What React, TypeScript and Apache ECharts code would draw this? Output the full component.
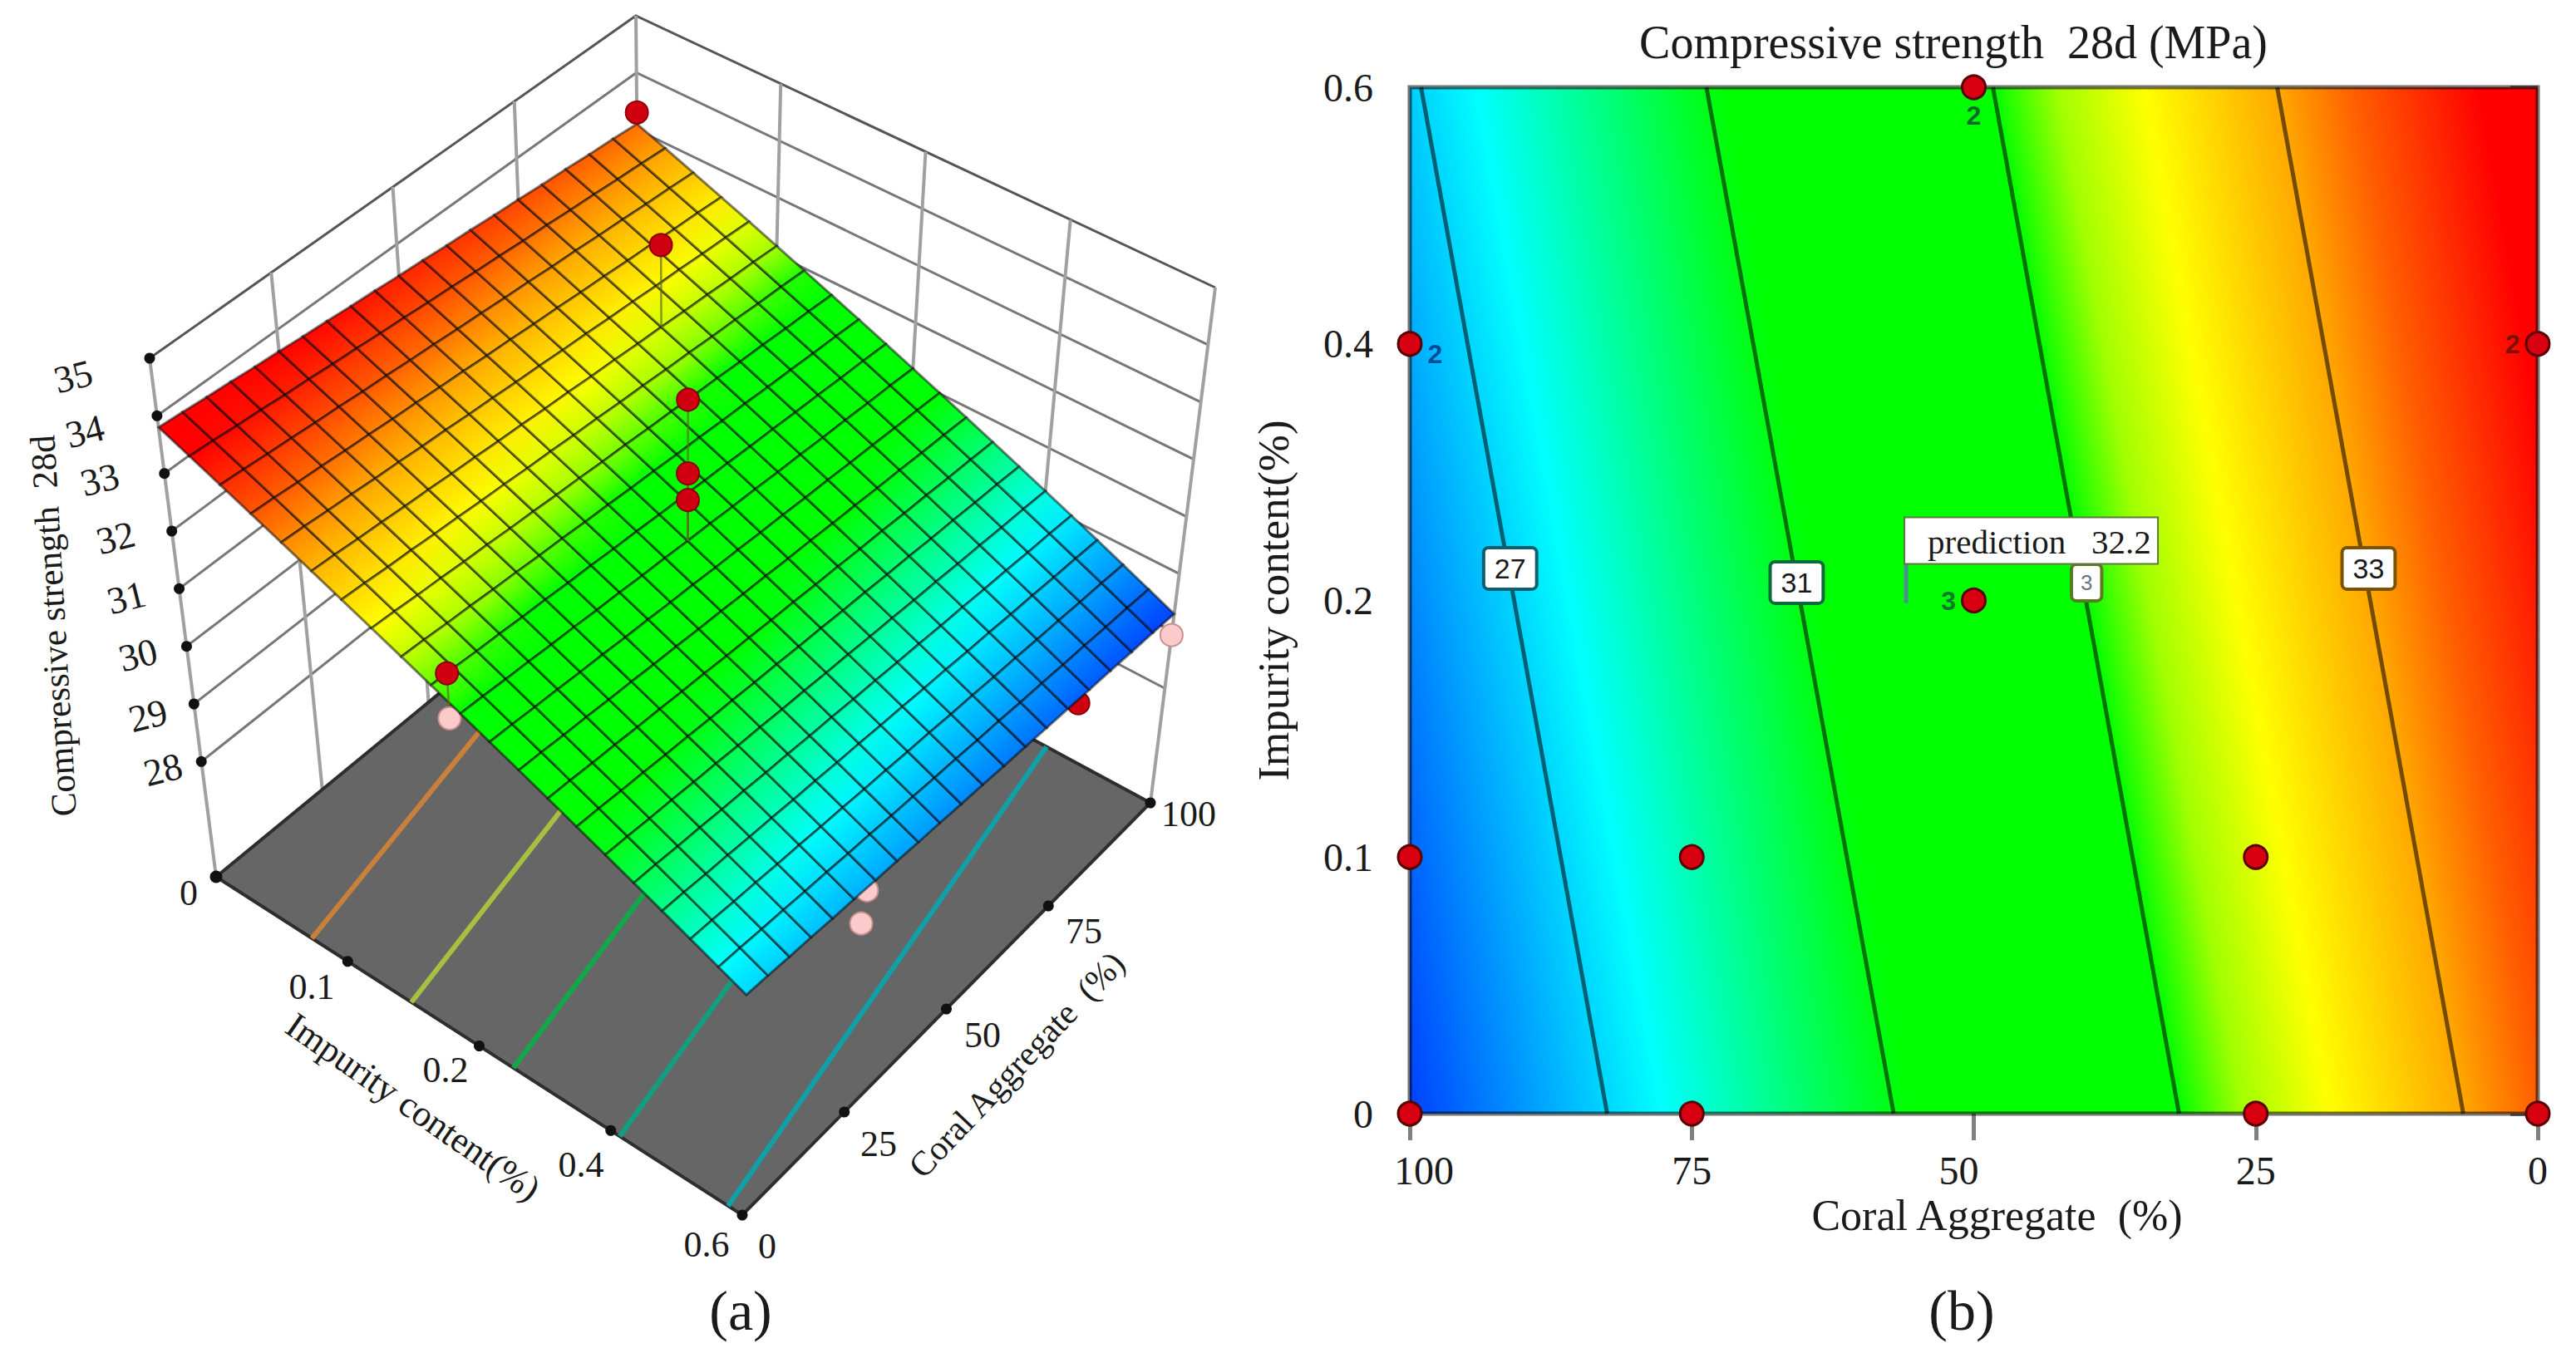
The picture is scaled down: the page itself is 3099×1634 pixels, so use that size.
import React, { useEffect, useRef } from "react";
import * as echarts from "echarts";

const SERIF = "'Liberation Serif', serif";
const SANS = "'Liberation Sans', sans-serif";

// ---- shared colour bands
const bandColors = ["#0040ff", "#00ffff", "#00ff00", "#00ff00", "#a0ff00", "#ffff00", "#ffa800", "#ff6000", "#ff0000", "#ff0000"];
const bandCoralAtZero = [100, 77.6, 55.5, 31.9, 26.2, 18.5, 6.6, 0, -11.3, -16.4];
const bandStrength = [29.3, 30.17, 31.02, 31.93, 32.16, 32.45, 32.91, 33.17, 33.6, 33.8];

// ---- panel (b)
const impurityTicks = ["0", "0.1", "0.2", "0.4", "0.6"];
const contourCoralAtBottom = [82.5, 57.1, 31.8, 6.6];
const contourCoralAtTop = [99.0, 73.7, 48.3, 23.1];
const contourTags = [
  { text: "27", coral: 91.1, pos: 2.125, edge: "#0d5f70", size: 34, pad: [6, 11] },
  { text: "31", coral: 65.7, pos: 2.07, edge: "#0a6a3a", size: 34, pad: [6, 11] },
  { text: "3", coral: 40.0, pos: 2.07, edge: "#5a7a20", size: 26, pad: [7, 9] },
  { text: "33", coral: 15.0, pos: 2.125, edge: "#7a5200", size: 34, pad: [6, 11] },
];
const designCoral = [50, 100, 0, 50, 100, 75, 25, 100, 75, 25, 0];
const designPos = [4, 3, 3, 2, 1, 1, 1, 0, 0, 0, 0];
const replicateTags = [
  { index: 0, text: "2", position: "bottom", color: "#0a6a2a", dy: -4 },
  { index: 1, text: "2", position: "right", color: "#004a9a", dy: 12 },
  { index: 2, text: "2", position: "left", color: "#7a1000", dy: 0 },
  { index: 3, text: "3", position: "left", color: "#0a7a2a", dy: 0 },
];
const predictionPoint = [56, 1.99];
const predictionText = "prediction   32.2";

// ---- panel (a)
const zTicks = [28, 29, 30, 31, 32, 33, 34, 35];
const impurityScene = ["0", "0.1", "0.2", "0.4", "0.6"];
const coralScene = ["0", "25", "50", "75", "100"];
const wallFractions = [0.25, 0.5, 0.75];
const floorContourStart = [0.182, 0.371, 0.565, 0.767, 0.973];
const floorContourEnd = [0.005, 0.194, 0.388, 0.59, 0.796];
const floorContourColors = ["#c8803a", "#a8c040", "#10a848", "#10a080", "#10a0a8"];
const redPoints = [
  [0, 1, 33.3],
  [0.25, 0.75, 33.77],
  [0.5, 0.5, 34.04],
  [0.5, 0.5, 32.74],
  [0.5, 0.5, 32.27],
  [0.48, 0, 32.49],
];
const redHidden = [[1, 0.775, 29.39]];
const pinkPoints = [
  [1, 1, 28.93],
  [0.48, 0, 31.69],
  [1, 0.27, 29.24],
  [1, 0.28, 29.76],
];
const strengthMesh = [
  [33.80,33.77,33.73,33.70,33.66,33.63,33.59,33.56,33.52,33.49,33.45,33.42,33.38,33.35,33.31,33.28,33.24,33.21,33.17,33.14,33.10],
  [33.61,33.58,33.54,33.51,33.47,33.44,33.40,33.37,33.33,33.30,33.26,33.23,33.19,33.16,33.12,33.09,33.05,33.02,32.98,32.95,32.91],
  [33.42,33.39,33.35,33.32,33.28,33.25,33.21,33.18,33.14,33.11,33.07,33.04,33.00,32.97,32.93,32.90,32.86,32.83,32.79,32.76,32.72],
  [33.23,33.20,33.16,33.13,33.09,33.06,33.02,32.99,32.95,32.92,32.88,32.85,32.81,32.78,32.74,32.71,32.67,32.64,32.60,32.57,32.53],
  [33.04,33.01,32.97,32.94,32.90,32.87,32.83,32.80,32.76,32.73,32.69,32.66,32.62,32.59,32.55,32.52,32.48,32.45,32.41,32.38,32.34],
  [32.85,32.82,32.78,32.75,32.71,32.68,32.64,32.61,32.57,32.54,32.50,32.47,32.43,32.40,32.36,32.33,32.29,32.26,32.22,32.19,32.15],
  [32.66,32.63,32.59,32.56,32.52,32.49,32.45,32.42,32.38,32.35,32.31,32.28,32.24,32.21,32.17,32.14,32.10,32.07,32.03,32.00,31.96],
  [32.47,32.44,32.40,32.37,32.33,32.30,32.26,32.23,32.19,32.16,32.12,32.09,32.05,32.02,31.98,31.95,31.91,31.88,31.84,31.81,31.77],
  [32.28,32.25,32.21,32.18,32.14,32.11,32.07,32.04,32.00,31.97,31.93,31.90,31.86,31.83,31.79,31.76,31.72,31.69,31.65,31.62,31.58],
  [32.09,32.06,32.02,31.99,31.95,31.92,31.88,31.85,31.81,31.78,31.74,31.71,31.67,31.64,31.60,31.57,31.53,31.50,31.46,31.43,31.39],
  [31.90,31.87,31.83,31.80,31.76,31.73,31.69,31.66,31.62,31.59,31.55,31.52,31.48,31.45,31.41,31.38,31.34,31.31,31.27,31.24,31.20],
  [31.71,31.68,31.64,31.61,31.57,31.54,31.50,31.47,31.43,31.40,31.36,31.33,31.29,31.26,31.22,31.19,31.15,31.12,31.08,31.05,31.01],
  [31.52,31.49,31.45,31.42,31.38,31.35,31.31,31.28,31.24,31.21,31.17,31.14,31.10,31.07,31.03,31.00,30.96,30.93,30.89,30.86,30.82],
  [31.33,31.30,31.26,31.23,31.19,31.16,31.12,31.09,31.05,31.02,30.98,30.95,30.91,30.88,30.84,30.81,30.77,30.74,30.70,30.67,30.63],
  [31.14,31.11,31.07,31.04,31.00,30.97,30.93,30.90,30.86,30.83,30.79,30.76,30.72,30.69,30.65,30.62,30.58,30.55,30.51,30.48,30.44],
  [30.95,30.92,30.88,30.85,30.81,30.78,30.74,30.71,30.67,30.64,30.60,30.57,30.53,30.50,30.46,30.43,30.39,30.36,30.32,30.29,30.25],
  [30.76,30.73,30.69,30.66,30.62,30.59,30.55,30.52,30.48,30.45,30.41,30.38,30.34,30.31,30.27,30.24,30.20,30.17,30.13,30.10,30.06],
  [30.57,30.54,30.50,30.47,30.43,30.40,30.36,30.33,30.29,30.26,30.22,30.19,30.15,30.12,30.08,30.05,30.01,29.98,29.94,29.91,29.87],
  [30.38,30.35,30.31,30.28,30.24,30.21,30.17,30.14,30.10,30.07,30.03,30.00,29.96,29.93,29.89,29.86,29.82,29.79,29.75,29.72,29.68],
  [30.19,30.16,30.12,30.09,30.05,30.02,29.98,29.95,29.91,29.88,29.84,29.81,29.77,29.74,29.70,29.67,29.63,29.60,29.56,29.53,29.49],
  [30.00,29.97,29.93,29.90,29.86,29.83,29.79,29.76,29.72,29.69,29.65,29.62,29.58,29.55,29.51,29.48,29.44,29.41,29.37,29.34,29.30],
];

// ---- scene layout of panel (a): corners [a=0,b=0], [a=1,b=0], [a=1,b=1], [a=0,b=1]
const floorCorners = [[260, 1055], [893, 1462], [1384, 966], [771, 635]];
const topCorners = [[180, 431], [904, 866], [1462, 346], [765, 19]];
const zFloor = 26;
const zTop = 35;

const corner = (c: number[][], a: number, b: number, k: number) =>
  (1 - a) * (1 - b) * c[0][k] + a * (1 - b) * c[1][k] + a * b * c[2][k] + (1 - a) * b * c[3][k];

const project = (a: number, b: number, z: number): number[] => {
  const t = (z - zFloor) / (zTop - zFloor);
  return [0, 1].map((k) => corner(floorCorners, a, b, k) * (1 - t) + corner(topCorners, a, b, k) * t);
};

const hexRgb = (h: string) => [1, 3, 5].map((i) => parseInt(h.slice(i, i + 2), 16));
const strengthColor = (z: number) => {
  const s = bandStrength;
  let i = 0;
  while (i < s.length - 2 && z > s[i + 1]) i++;
  const f = Math.min(1, Math.max(0, (z - s[i]) / (s[i + 1] - s[i])));
  const p = hexRgb(bandColors[i]);
  const q = hexRgb(bandColors[i + 1]);
  return `rgb(${p.map((v, n) => Math.round(v + (q[n] - v) * f)).join(",")})`;
};

const layer = (data: any[], z: number, draw: (d: any, api: any) => any) => ({
  type: "custom",
  coordinateSystem: "cartesian2d",
  xAxisIndex: 1,
  yAxisIndex: 1,
  silent: true,
  z,
  data: data.map((_, i) => [i, i]),
  renderItem: (p: any, api: any) => draw(data[p.dataIndex], api),
});

const line = (api: any, pts: number[][], stroke: string, lineWidth: number) => ({
  type: "polyline",
  silent: true,
  shape: { points: pts.map((q) => api.coord(q)) },
  style: { stroke, lineWidth, fill: "none" },
});

const sceneDots = (pts: number[][], z: number, size: number, color: string, border: string, bw = 2) => ({
  type: "scatter",
  xAxisIndex: 1,
  yAxisIndex: 1,
  silent: true,
  z,
  symbolSize: size,
  data: pts.map((p) => project(p[0], p[1], p[2])),
  itemStyle: { color, borderColor: border, borderWidth: bw, opacity: 1 },
});

const meshCells: number[][] = [];
for (let i = 0; i < strengthMesh.length - 1; i++) {
  for (let j = 0; j < strengthMesh[i].length - 1; j++) meshCells.push([i, j]);
}
const meshN = strengthMesh.length - 1;

const wallLinesZ = zTicks.map((z) => ({ z }));
const wallVerticals = [
  ...wallFractions.map((f) => [0, f]),
  ...wallFractions.map((f) => [f, 1]),
  [0, 0],
  [0, 1],
  [1, 1],
];
const floorTicks = [
  ...impurityScene.map((_, i) => [i / 4, 0, zFloor]),
  ...coralScene.slice(1).map((_, i) => [1, (i + 1) / 4, zFloor]),
];

const sceneText = (text: string, x: number, y: number, size: number, rotationDeg = 0) => ({
  type: "text",
  x,
  y,
  rotation: (rotationDeg * Math.PI) / 180,
  silent: true,
  z: 50,
  style: { text, fontFamily: SERIF, fontSize: size, fill: "#1a1a1a", align: "center", verticalAlign: "middle" },
});

const zLabelPos = [[196, 926], [178, 861], [166, 788], [152, 719], [139, 647], [120, 577], [102, 519], [88, 453]];
const impurityLabelPos = [[227, 1074], [375, 1187], [536, 1287], [699, 1401], [850, 1497]];
const coralLabelPos = [[923, 1499], [1057, 1376], [1182, 1245], [1304, 1120], [1430, 979]];

export default function App() {
  const ref = useRef<HTMLDivElement>(null);
  useEffect(() => {
    const chart = echarts.init(ref.current!, undefined, { renderer: "svg" });
    const tickFont = { fontFamily: SERIF, fontSize: 48, color: "#1a1a1a" };
    const option: any = {
      animation: false,
      backgroundColor: "#ffffff",
      title: {
        text: "Compressive strength  28d (MPa)",
        left: 2345,
        top: 18,
        textAlign: "center",
        textStyle: { fontFamily: SERIF, fontSize: 56, fontWeight: "normal", color: "#1a1a1a" },
      },
      grid: [
        { left: 1696, top: 105, width: 1357, height: 1235, containLabel: false },
        { left: 0, top: 0, width: 1550, height: 1634, containLabel: false },
      ],
      xAxis: [
        {
          type: "value",
          gridIndex: 0,
          inverse: true,
          min: 0,
          max: 100,
          interval: 25,
          name: "Coral Aggregate  (%)",
          nameLocation: "middle",
          nameGap: 96,
          nameTextStyle: { fontFamily: SERIF, fontSize: 52, color: "#1a1a1a", padding: [0, 0, 0, 56] },
          splitLine: { show: false },
          axisLine: { show: false },
          axisTick: { length: 32, lineStyle: { color: "#808080", width: 5 } },
          axisLabel: {
            margin: 44,
            ...tickFont,
            formatter: (v: number) => (v === 100 ? `{r|${v}}` : v === 50 ? `{l|${v}}` : `{n|${v}}`),
            rich: {
              r: { ...tickFont, padding: [0, 0, 0, 34] },
              l: { ...tickFont, padding: [0, 36, 0, 0] },
              n: { ...tickFont },
            },
          },
        },
        { type: "value", gridIndex: 1, min: 0, max: 1550, show: false },
      ],
      yAxis: [
        {
          type: "value",
          gridIndex: 0,
          min: 0,
          max: 4,
          interval: 1,
          name: "Impurity content(%)",
          nameLocation: "middle",
          nameGap: 138,
          nameTextStyle: { fontFamily: SERIF, fontSize: 53, color: "#1a1a1a" },
          splitLine: { show: false },
          axisLine: { show: false },
          axisTick: { length: 33, lineStyle: { color: "#808080", width: 5 } },
          axisLabel: {
            margin: 44,
            ...tickFont,
            formatter: (v: number) => impurityTicks[v],
          },
        },
        { type: "value", gridIndex: 1, min: 0, max: 1634, inverse: true, show: false },
      ],
      graphic: [
        sceneText("(a)", 891, 1577, 68),
        sceneText("(b)", 2360, 1577, 68),
        sceneText("Compressive strength  28d", 64, 753, 43, 93.3),
        sceneText("Impurity content(%)", 497, 1332, 44, -34.8),
        sceneText("Coral Aggregate  (%)", 1223, 1281, 41.5, 46.5),
        ...zTicks.map((z, i) => sceneText(String(z), zLabelPos[i][0], zLabelPos[i][1], 46, 14)),
        ...impurityScene.map((t, i) => sceneText(t, impurityLabelPos[i][0], impurityLabelPos[i][1], 44)),
        ...coralScene.map((t, i) => sceneText(t, coralLabelPos[i][0], coralLabelPos[i][1], 44)),
      ],
      series: [
        // ---------- panel (b)
        {
          type: "custom",
          xAxisIndex: 0,
          yAxisIndex: 0,
          silent: true,
          z: 2,
          data: [[50, 2]],
          renderItem: (_: any, api: any) => {
            const corners = [[100, 0], [0, 0], [0, 4], [100, 4]].map((c) => api.coord(c));
            const p0 = api.coord([bandCoralAtZero[0], 0]);
            const p1 = api.coord([bandCoralAtZero[bandCoralAtZero.length - 1], 0]);
            const low = api.coord([contourCoralAtBottom[0], 0]);
            const high = api.coord([contourCoralAtTop[0], 4]);
            const dx = high[0] - low[0];
            const dy = high[1] - low[1];
            const len = Math.hypot(dx, dy);
            const nx = Math.abs(dy) / len;
            const ny = (dy > 0 ? -dx : dx) / len;
            const t = (p1[0] - p0[0]) * nx + (p1[1] - p0[1]) * ny;
            const first = bandCoralAtZero[0];
            const span = first - bandCoralAtZero[bandCoralAtZero.length - 1];
            const fill = new echarts.graphic.LinearGradient(
              p0[0],
              p0[1],
              p0[0] + nx * t,
              p0[1] + ny * t,
              bandCoralAtZero.map((c, i) => ({ offset: (first - c) / span, color: bandColors[i] })),
              true
            );
            return {
              type: "polygon",
              silent: true,
              shape: { points: corners },
              style: { fill, stroke: "rgba(0,0,0,0.55)", lineWidth: 5 },
            };
          },
        },
        {
          type: "custom",
          xAxisIndex: 0,
          yAxisIndex: 0,
          silent: true,
          z: 3,
          data: contourCoralAtBottom.map((c, i) => [c, 0, contourCoralAtTop[i], 4]),
          renderItem: (_: any, api: any) => ({
            type: "line",
            silent: true,
            shape: (() => {
              const a = api.coord([api.value(0), api.value(1)]);
              const b = api.coord([api.value(2), api.value(3)]);
              return { x1: a[0], y1: a[1], x2: b[0], y2: b[1] };
            })(),
            style: { stroke: "rgba(0,0,0,0.55)", lineWidth: 5 },
          }),
          encode: { x: 0, y: 1 },
        },
        {
          type: "scatter",
          xAxisIndex: 0,
          yAxisIndex: 0,
          silent: true,
          z: 4,
          symbolSize: 1,
          itemStyle: { color: "rgba(0,0,0,0)", opacity: 1 },
          data: contourTags.map((t) => ({
            value: [t.coral, t.pos],
            label: {
              show: true,
              position: "inside",
              formatter: t.text,
              fontFamily: SANS,
              fontSize: t.size,
              color: t.text === "3" ? "#667788" : "#1a1a1a",
              backgroundColor: "#ffffff",
              borderColor: t.edge,
              borderWidth: 4,
              borderRadius: 4,
              padding: t.pad,
            },
          })),
        },
        {
          type: "scatter",
          xAxisIndex: 0,
          yAxisIndex: 0,
          silent: true,
          z: 5,
          symbolSize: 28,
          itemStyle: { color: "#d80010", borderColor: "#5a0000", borderWidth: 3, opacity: 1 },
          data: designCoral.map((c, i) => {
            const tag = replicateTags.find((r) => r.index === i);
            return tag
              ? {
                  value: [c, designPos[i]],
                  label: {
                    show: true,
                    formatter: tag.text,
                    position: tag.position,
                    distance: 6,
                    offset: [0, tag.dy],
                    fontFamily: SANS,
                    fontWeight: "bold",
                    fontSize: 32,
                    color: tag.color,
                  },
                }
              : { value: [c, designPos[i]] };
          }),
        },
        {
          type: "custom",
          xAxisIndex: 0,
          yAxisIndex: 0,
          silent: true,
          z: 6,
          data: [predictionPoint],
          renderItem: (_: any, api: any) => {
            const p = api.coord([api.value(0), api.value(1)]);
            return {
              type: "group",
              silent: true,
              children: [
                {
                  type: "line",
                  silent: true,
                  shape: { x1: p[0], y1: p[1], x2: p[0], y2: p[1] - 48 },
                  style: { stroke: "#4d8f8f", lineWidth: 5 },
                },
                {
                  type: "rect",
                  silent: true,
                  shape: { x: p[0] - 2, y: p[1] - 103, width: 305, height: 56 },
                  style: { fill: "#ffffff", stroke: "#5a7a3a", lineWidth: 2 },
                },
                {
                  type: "text",
                  silent: true,
                  x: p[0] + 26,
                  y: p[1] - 74,
                  style: {
                    text: predictionText,
                    fontFamily: SERIF,
                    fontSize: 41,
                    fill: "#1a1a1a",
                    align: "left",
                    verticalAlign: "middle",
                  },
                },
              ],
            };
          },
        },

        // ---------- panel (a)
        layer(wallLinesZ, 10, (d, api) =>
          line(
            api,
            [project(0, 0, d.z), project(0, 1, d.z), project(1, 1, d.z)],
            d.z === zTop ? "#555555" : "#777777",
            3
          )
        ),
        layer(wallVerticals, 11, (d, api) =>
          line(api, [project(d[0], d[1], zFloor), project(d[0], d[1], zTop)], "#a0a0a0", 4)
        ),
        layer([0], 12, (_, api) => ({
          type: "polygon",
          silent: true,
          shape: {
            points: [
              project(0, 0, zFloor),
              project(1, 0, zFloor),
              project(1, 1, zFloor),
              project(0, 1, zFloor),
            ].map((q) => api.coord(q)),
          },
          style: { fill: "#666666", stroke: "#2e2e2e", lineWidth: 4 },
        })),
        layer(floorContourStart, 13, (start, api) => {
          const i = floorContourStart.indexOf(start);
          return line(
            api,
            [project(start, 0, zFloor), project(floorContourEnd[i], 1, zFloor)],
            floorContourColors[i],
            6
          );
        }),
        sceneDots(pinkPoints, 14, 27, "#fbcaca", "#c89090"),
        sceneDots(redHidden, 14, 27, "#d00010", "#8a0000"),
        sceneDots(floorTicks, 15, 13, "#111111", "#111111", 0),
        layer(meshCells, 20, (cell, api) => {
          const [i, j] = cell;
          const a0 = i / meshN;
          const a1 = (i + 1) / meshN;
          const b0 = j / meshN;
          const b1 = (j + 1) / meshN;
          const m = strengthMesh;
          const p00 = api.coord(project(a0, b0, m[i][j]));
          const p10 = api.coord(project(a1, b0, m[i + 1][j]));
          const p11 = api.coord(project(a1, b1, m[i + 1][j + 1]));
          const p01 = api.coord(project(a0, b1, m[i][j + 1]));
          const fromX = (p00[0] + p01[0]) / 2;
          const fromY = (p00[1] + p01[1]) / 2;
          const midX = (p10[0] + p11[0]) / 2;
          const midY = (p10[1] + p11[1]) / 2;
          // iso-colour lines stay parallel to the cell's b edge
          const ex = p01[0] - p00[0];
          const ey = p01[1] - p00[1];
          const el = Math.hypot(ex, ey);
          const nx = -ey / el;
          const ny = ex / el;
          const reach = (midX - fromX) * nx + (midY - fromY) * ny;
          const fill = new echarts.graphic.LinearGradient(
            fromX,
            fromY,
            fromX + nx * reach,
            fromY + ny * reach,
            [
              { offset: 0, color: strengthColor((m[i][j] + m[i][j + 1]) / 2) },
              { offset: 1, color: strengthColor((m[i + 1][j] + m[i + 1][j + 1]) / 2) },
            ],
            true
          );
          return {
            type: "polygon",
            silent: true,
            shape: { points: [p00, p10, p11, p01] },
            style: { fill, stroke: "rgba(0,0,0,0.5)", lineWidth: 3 },
          };
        }),
        sceneDots(zTicks.map((z) => [0, 0, z]), 21, 13, "#111111", "#111111", 0),
        sceneDots([[0, 0, zFloor]], 21, 15, "#111111", "#111111", 0),
        layer(redPoints, 22, (d, api) =>
          line(api, [project(d[0], d[1], d[2]), project(d[0], d[1], strengthMesh[Math.round(d[0] * meshN)][Math.round(d[1] * meshN)])], "rgba(90,110,30,0.7)", 2.5)
        ),
        sceneDots(redPoints, 23, 27, "#d00010", "#8a0000"),
      ],
    };
    chart.setOption(option);
    return () => chart.dispose();
  }, []);
  return <div ref={ref} style={{ position: "fixed", left: 0, top: 0, width: 3099, height: 1634 }} />;
}
